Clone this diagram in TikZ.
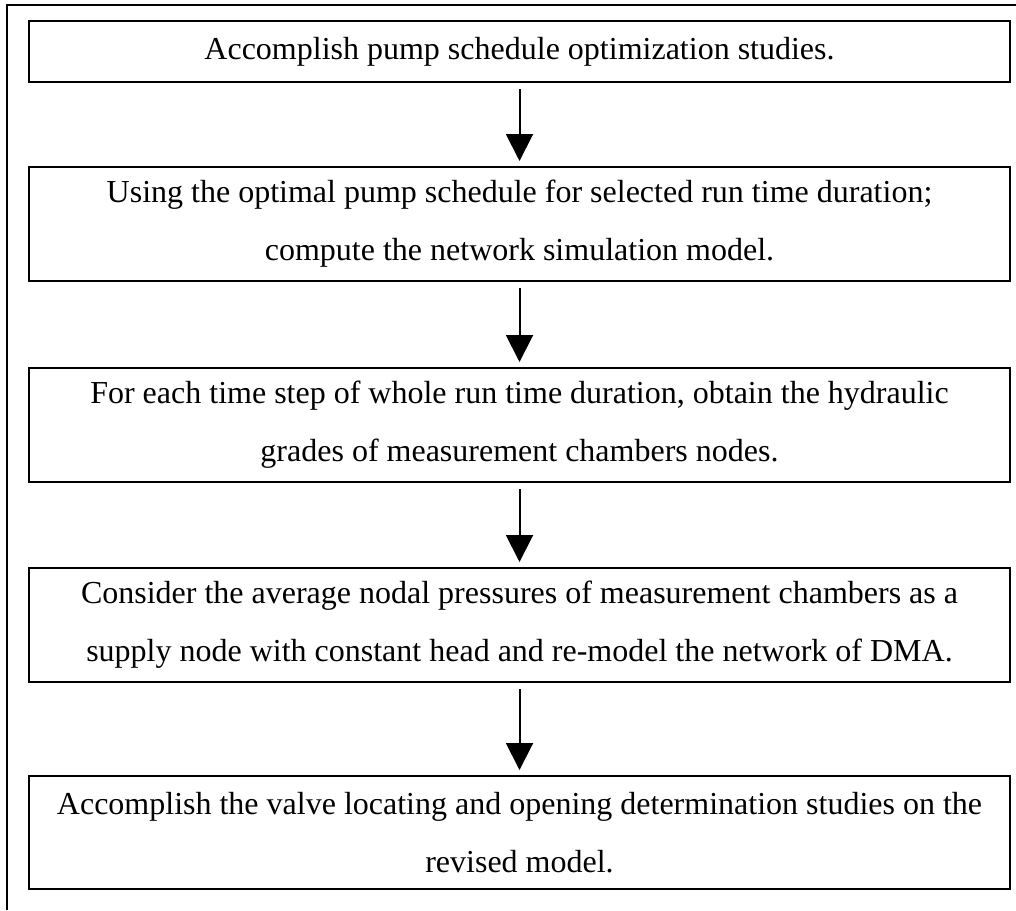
\documentclass[tikz,border=0pt]{standalone}
\usepackage{fontspec}
\setmainfont{Liberation Serif}
\usetikzlibrary{arrows.meta}

\begin{document}
\begin{tikzpicture}[x=1pt,y=-1pt]
    \useasboundingbox (0,0) rectangle (1016,910);
    \draw[line width=2pt] (1016,5) -- (7,5) -- (7,910);

    \begin{scope}[every node/.style={rectangle,draw,line width=2pt,minimum width=981pt,minimum height=114pt,align=center,inner sep=0pt,font=\fontsize{32}{58}\selectfont}]
      \node (1) at (519.5,51.5) [minimum height=61pt] {Accomplish pump schedule optimization studies.};
      \node (2) at (519.5,224) {Using the optimal pump schedule for selected run time duration;\\compute the network simulation model.};
      \node (3) at (519.5,425) {For each time step of whole run time duration, obtain the hydraulic\\grades of measurement chambers nodes.};
      \node (4) at (519.5,625) {Consider the average nodal pressures of measurement chambers as a\\supply node with constant head and re-model the network of DMA.};
      \node (5) at (519.5,832.5) [minimum height=113pt] {Accomplish the valve locating and opening determination studies on the\\revised model.};
    \end{scope}

    \begin{scope}[>={Triangle[width=27pt,length=27pt]},
        every edge/.style={draw,line width=2pt,shorten <=6pt,shorten >=5pt}]
      \path [->] (1) edge (2);
      \path [->] (2) edge (3);
      \path [->] (3) edge (4);
      \path [->] (4) edge (5);
    \end{scope}
\end{tikzpicture}
\end{document}
